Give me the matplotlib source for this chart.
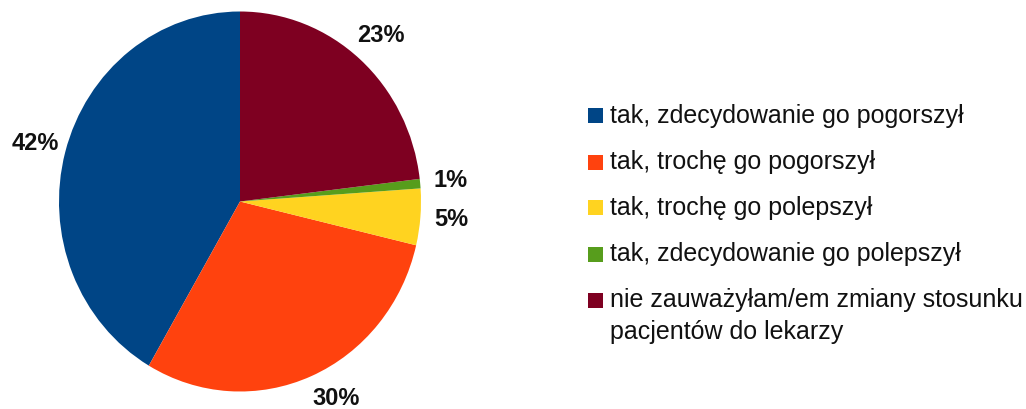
import matplotlib
matplotlib.use('Agg')
import matplotlib.pyplot as plt
from matplotlib.patches import Rectangle

plt.rcParams['font.family'] = ['Liberation Sans', 'DejaVu Sans']

# answers and shares (percent)
labels = ['tak, zdecydowanie go pogorszył',
          'tak, trochę go pogorszył',
          'tak, trochę go polepszył',
          'tak, zdecydowanie go polepszył',
          'nie zauważyłam/em zmiany stosunku\npacjentów do lekarzy']
shares = [41.6, 29.7, 4.8, 0.8, 23.1]
colors = ['#004586', '#ff420e', '#ffd320', '#579d1c', '#7e0021']

W, H = 1026, 409
fig = plt.figure(figsize=(W / 100, H / 100), dpi=100)

# pie area in pixels (slightly taller than wide, like the source)
px0, px1 = 59, 421
py0, py1 = 11.5, 391.5
ax = fig.add_axes([px0 / W, 1 - py1 / H, (px1 - px0) / W, (py1 - py0) / H])

wedges, texts, autotexts = ax.pie(
    shares, colors=colors, startangle=90, counterclock=True,
    autopct='%.0f%%', pctdistance=1.17,
    textprops={'fontsize': 17, 'fontweight': 'bold', 'color': '#111111'},
    wedgeprops={'linewidth': 0})
ax.set_aspect('auto')
ax.set_xlim(-1, 1)
ax.set_ylim(-1, 1)
for t in autotexts:
    t.set_clip_on(False)
# the bottom label sits a bit right of the slice middle, kept inside the image
x, y = autotexts[1].get_position()
autotexts[1].set_position((x + 0.07, y + 0.04))

# legend drawn by hand so the square sits on the first line of each entry
row0, row_step, line_step = 116, 46, 32
sq = 15
for i, (lab, c) in enumerate(zip(labels, colors)):
    yc = row0 + i * row_step
    fig.patches.append(Rectangle((588 / W, 1 - (yc + sq / 2) / H), sq / W, sq / H,
                                 transform=fig.transFigure, facecolor=c,
                                 edgecolor='none'))
    for k, line in enumerate(lab.split('\n')):
        fig.text(610 / W, 1 - (yc + 7 + k * line_step) / H, line,
                 fontsize=18, color='#111111', ha='left', va='baseline')

fig.savefig('out.png', dpi=100)
